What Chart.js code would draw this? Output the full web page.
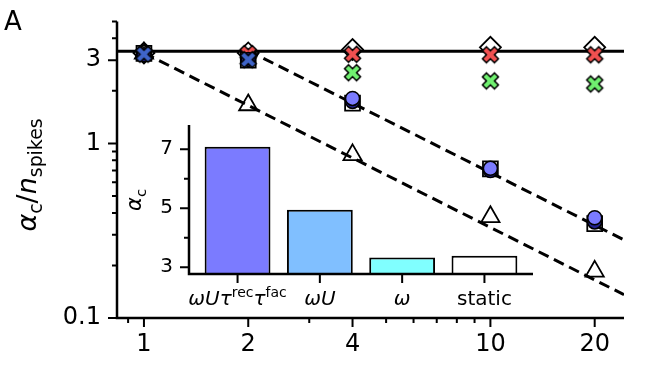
<!DOCTYPE html>
<html>
<head>
<meta charset="utf-8">
<script src="https://cdn.jsdelivr.net/npm/chart.js@4.4.1/dist/chart.umd.min.js"></script>
<style>
  html, body { margin: 0; padding: 0; background: #fff; }
  #wrap { position: relative; width: 658px; height: 371px; }
  #wrap canvas { position: absolute; left: 0; top: 0; }
</style>
</head>
<body>
<div id="wrap">
  <canvas id="main" width="658" height="371"></canvas>
  <canvas id="inset" width="658" height="371"></canvas>
</div>
<script>
// ---- main panel: alpha_c / n_spikes vs number of spikes ----
const nSpikes = [1, 2, 4, 10, 20];
const xRange = [0.836, 24.3];
const yRange = [0.1, 5.0];

const diamondVals  = [3.30, 3.30, 3.45, 3.55, 3.55];
const redXVals     = [null, 3.27, 3.24, 3.22, 3.22];
const greenXVals   = [null, null, 2.54, 2.28, 2.19];
const squareVals   = [3.28, 3.00, 1.70, 0.715, 0.347];
const triangleVals = [3.28, 1.66, 0.86, 0.38, 0.185];
const navyCircVals = [3.22, 3.03, 1.74, 0.70, 0.355];
const blueCircVals = [null, null, 1.81, 0.72, 0.375];
const blueXVals    = [3.24, 3.02, null, null, null];

// reference lines (x, y pairs)
const flatLine  = [[0.836, 3.37], [24.3, 3.37]];
const upperDash = [[2, 3.4], [24.3, 0.28]];
const lowerDash = [[1, 3.3], [24.3, 0.136]];

const xMajorTicks = [1, 2, 4, 10, 20];
const xMinorTicks = [0.9, 3, 5, 6, 7, 8, 9];
const yMajorTicks = [0.1, 1, 3];
const yMinorTicks = [0.2, 0.3, 0.4, 0.5, 0.6, 0.7, 0.8, 0.9, 2, 4, 5];

// ---- inset: alpha_c per model ----
const modelLabels = ['$ωUτ$^{rec}$τ$^{fac}', '$ωU$', '$ω$', 'static'];
const alphaC = [7.08, 4.95, 3.33, 3.39];
const barColors = ['#7b7bff', '#80bfff', '#80ffff', '#ffffff'];
const insetYRange = [2.77, 7.82];
const insetXRange = [-0.59, 3.59];
const insetYMajor = [3, 5, 7];
const insetYMinor = [4, 6];

const FONT = 'DejaVu Sans';
Chart.defaults.font.family = FONT;
Chart.defaults.color = '#000';

// small mathtext: $..$ italic, ^{..} superscript, _{..} subscript
function mathSegments(str) {
  const out = [];
  const re = /\$([^$]+)\$|\^\{([^}]*)\}|_\{([^}]*)\}|([^$^_]+)/g;
  let m;
  while ((m = re.exec(str))) {
    if (m[1]) out.push({ t: m[1], italic: true, shift: 0 });
    else if (m[2]) out.push({ t: m[2], shift: -1 });
    else if (m[3]) out.push({ t: m[3], shift: 1 });
    else out.push({ t: m[4], shift: 0 });
  }
  return out;
}

function drawMath(ctx, str, x, y, size, align) {
  const segs = mathSegments(str);
  const fontOf = s => (s.italic ? 'italic ' : '') + (s.shift ? size * 0.7 : size) + 'px "' + FONT + '"';
  let w = 0;
  segs.forEach(s => { ctx.font = fontOf(s); s.w = ctx.measureText(s.t).width; w += s.w; });
  let cx = align === 'center' ? x - w / 2 : x;
  ctx.textAlign = 'left';
  ctx.textBaseline = 'alphabetic';
  ctx.fillStyle = '#000';
  segs.forEach(s => {
    ctx.font = fontOf(s);
    const dy = s.shift < 0 ? -size * 0.42 : s.shift > 0 ? size * 0.22 : 0;
    ctx.fillText(s.t, cx, y + dy);
    cx += s.w;
  });
}

// filled "X" marker like matplotlib's 'X'
function xMarker(fill, size) {
  const c = document.createElement('canvas');
  const d = Math.ceil(size) + 4;
  c.width = c.height = d;
  const g = c.getContext('2d');
  const u = size / 6;
  const pts = [[-1,-3],[1,-3],[1,-1],[3,-1],[3,1],[1,1],[1,3],[-1,3],[-1,1],[-3,1],[-3,-1],[-1,-1]];
  g.translate(d / 2, d / 2);
  g.rotate(Math.PI / 4);
  g.beginPath();
  pts.forEach(([px, py], i) => i ? g.lineTo(px * u, py * u) : g.moveTo(px * u, py * u));
  g.closePath();
  g.fillStyle = fill;
  g.fill();
  g.lineWidth = 1.5;
  g.strokeStyle = '#000';
  g.stroke();
  return c;
}

function pts(vals) {
  return nSpikes.map((x, i) => ({ x: x, y: vals[i] })).filter(p => p.y != null);
}
function linePts(pairs) {
  return pairs.map(p => ({ x: p[0], y: p[1] }));
}

// spines + major/minor tick marks drawn from the scales
function axesPlugin(t) {
  return {
    id: 'axesDecor',
    afterDraw(chart) {
      const { ctx, chartArea: a } = chart;
      const xs = chart.scales.x, ys = chart.scales.y;
      ctx.save();
      ctx.strokeStyle = '#000';
      ctx.lineWidth = 2.5;
      ctx.beginPath();
      ctx.moveTo(a.left, a.top);
      ctx.lineTo(a.left, a.bottom);
      ctx.lineTo(a.right, a.bottom);
      ctx.stroke();
      ctx.lineWidth = 2;
      ctx.beginPath();
      const markX = (vals, len) => vals.forEach(v => {
        const p = xs.getPixelForValue(v);
        ctx.moveTo(p, a.bottom); ctx.lineTo(p, a.bottom + len);
      });
      const markY = (vals, len) => vals.forEach(v => {
        const p = ys.getPixelForValue(v);
        ctx.moveTo(a.left - len, p); ctx.lineTo(a.left, p);
      });
      markX(t.xMajor, 9); markX(t.xMinor, 5);
      markY(t.yMajor, 9); markY(t.yMinor, 5);
      ctx.stroke();
      ctx.restore();
    }
  };
}

const hollow = 'rgba(0,0,0,0)';
const mainSets = [
  { data: linePts(flatLine), showLine: true, borderColor: '#000', borderWidth: 3, pointRadius: 0 },
  { data: linePts(upperDash), showLine: true, borderColor: '#000', borderWidth: 3, borderDash: [11, 6], pointRadius: 0 },
  { data: linePts(lowerDash), showLine: true, borderColor: '#000', borderWidth: 3, borderDash: [11, 6], pointRadius: 0 },
  { data: pts(diamondVals), pointStyle: 'rectRot', pointRadius: 10.5, pointBackgroundColor: hollow, pointBorderColor: '#000', pointBorderWidth: 1.8 },
  { data: pts(squareVals), pointStyle: 'rect', pointRadius: 10.5, pointBackgroundColor: hollow, pointBorderColor: '#000', pointBorderWidth: 1.8 },
  { data: pts(triangleVals), pointStyle: 'triangle', pointRadius: 10.5, pointBackgroundColor: hollow, pointBorderColor: '#000', pointBorderWidth: 1.8 },
  { data: pts(redXVals), pointStyle: xMarker('#f05050', 17) },
  { data: pts(greenXVals), pointStyle: xMarker('#70f070', 17) },
  { data: pts(navyCircVals), pointStyle: 'circle', pointRadius: 7, pointBackgroundColor: '#22228f', pointBorderColor: '#000', pointBorderWidth: 1.5 },
  { data: pts(blueCircVals), pointStyle: 'circle', pointRadius: 7, pointBackgroundColor: '#7b7bff', pointBorderColor: '#000', pointBorderWidth: 1.5 },
  { data: pts(blueXVals), pointStyle: xMarker('#3f64c8', 17) }
];
mainSets.forEach((d, i) => { d.order = mainSets.length - i; });

const mainLabels = {
  id: 'mainLabels',
  afterDraw(chart) {
    const ctx = chart.ctx;
    ctx.save();
    ctx.font = '26px "' + FONT + '"';
    ctx.fillStyle = '#000';
    ctx.textAlign = 'left';
    ctx.textBaseline = 'alphabetic';
    ctx.fillText('A', 4, 30);
    ctx.translate(36, 175);
    ctx.rotate(-Math.PI / 2);
    drawMath(ctx, '$α$_{c}/$n$_{spikes}', 0, 0, 27, 'center');
    ctx.restore();
  }
};

new Chart(document.getElementById('main'), {
  type: 'scatter',
  data: { datasets: mainSets },
  options: {
    responsive: false,
    animation: false,
    events: [],
    layout: { padding: { left: 0, top: 20, right: 658 - 624, bottom: 0 } },
    plugins: { legend: { display: false }, tooltip: { enabled: false } },
    scales: {
      x: {
        type: 'logarithmic', min: xRange[0], max: xRange[1],
        afterFit(s) { s.height = 371 - 318; },
        afterBuildTicks(s) { s.ticks = xMinorTicks.concat(xMajorTicks).sort((a, b) => a - b).map(v => ({ value: v })); },
        ticks: { autoSkip: false, maxRotation: 0, padding: 3, font: { size: 24 },
                 callback: v => xMajorTicks.includes(v) ? String(v) : '' },
        grid: { display: false, drawTicks: true, tickLength: 9 },
        border: { display: false }
      },
      y: {
        type: 'logarithmic', min: yRange[0], max: yRange[1],
        afterFit(s) { s.width = 117; },
        afterBuildTicks(s) { s.ticks = yMinorTicks.concat(yMajorTicks).sort((a, b) => a - b).map(v => ({ value: v })); },
        ticks: { autoSkip: false, padding: 7, font: { size: 24 },
                 callback: v => yMajorTicks.includes(v) ? String(v) : '' },
        grid: { display: false, drawTicks: true, tickLength: 9 },
        border: { display: false }
      }
    }
  },
  plugins: [axesPlugin({ xMajor: xMajorTicks, xMinor: xMinorTicks, yMajor: yMajorTicks, yMinor: yMinorTicks }), mainLabels]
});

// ---- inset bar chart ----
const insetLabels = {
  id: 'insetLabels',
  afterDraw(chart) {
    const ctx = chart.ctx;
    const xs = chart.scales.x;
    ctx.save();
    modelLabels.forEach((lab, i) => drawMath(ctx, lab, xs.getPixelForValue(i), 305, 20, 'center'));
    ctx.translate(141, 200);
    ctx.rotate(-Math.PI / 2);
    drawMath(ctx, '$α$_{c}', 0, 0, 21, 'center');
    ctx.restore();
  }
};

new Chart(document.getElementById('inset'), {
  type: 'bar',
  data: {
    datasets: [{
      data: alphaC.map((v, i) => ({ x: i, y: v })),
      backgroundColor: barColors,
      borderColor: '#000',
      borderWidth: 2,
      barPercentage: 0.8,
      categoryPercentage: 1
    }]
  },
  options: {
    responsive: false,
    animation: false,
    events: [],
    layout: { padding: { left: 0, top: 125, right: 658 - 533, bottom: 0 } },
    plugins: { legend: { display: false }, tooltip: { enabled: false } },
    scales: {
      x: {
        type: 'linear', min: insetXRange[0], max: insetXRange[1], offset: false,
        afterFit(s) { s.height = 371 - 274; },
        afterBuildTicks(s) { s.ticks = modelLabels.map((l, i) => ({ value: i })); },
        ticks: { autoSkip: false, maxRotation: 0, callback: () => '' },
        grid: { display: false, drawTicks: true, tickLength: 9, offset: false },
        border: { display: false }
      },
      y: {
        type: 'linear', min: insetYRange[0], max: insetYRange[1],
        afterFit(s) { s.width = 189; },
        afterBuildTicks(s) { s.ticks = insetYMinor.concat(insetYMajor).sort((a, b) => a - b).map(v => ({ value: v })); },
        ticks: { autoSkip: false, padding: 7, font: { size: 20 },
                 callback: v => insetYMajor.includes(v) ? String(v) : '' },
        grid: { display: false, drawTicks: true, tickLength: 9 },
        border: { display: false }
      }
    }
  },
  plugins: [axesPlugin({ xMajor: modelLabels.map((l, i) => i), xMinor: [], yMajor: insetYMajor, yMinor: insetYMinor }), insetLabels]
});
</script>
</body>
</html>
